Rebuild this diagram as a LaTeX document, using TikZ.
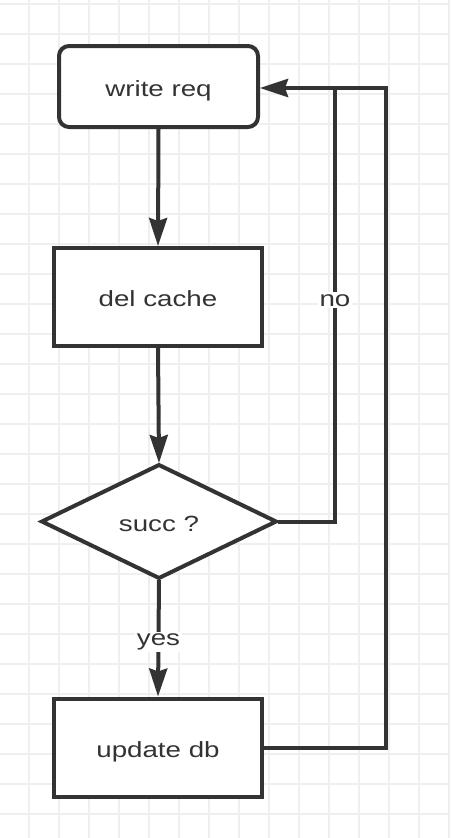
\documentclass[tikz,border=0pt]{standalone}
\usepackage{fontspec}
\newfontfamily\lblfont{Liberation Sans}[FakeStretch=1.26]
\usetikzlibrary{arrows.meta,shapes.geometric}
\definecolor{ink}{HTML}{333333}
\definecolor{gridc}{HTML}{EFEFEF}
\tikzset{
  every node/.style={font=\lblfont\fontsize{22}{26}\selectfont, text=ink},
  boxbase/.style={draw=ink, line width=4pt, fill=white, inner sep=0pt},
  lowtext/.style={text height=19pt, text depth=0pt},
  flowbox/.style={boxbase, lowtext, minimum width=208pt, minimum height=98pt},
  roundbox/.style={boxbase, lowtext, rounded corners=10pt, minimum width=199pt, minimum height=81pt},
  decision/.style={boxbase, diamond, aspect=2.07, minimum width=234pt, minimum height=113pt, shape border uses incircle=false},
  conn/.style={draw=ink, line width=4pt},
  arr/.style={conn, -{Stealth[length=28pt, width=18pt, inset=3pt]}},
  lbl/.style={fill=white, inner sep=2pt}
}
\begin{document}
\begin{tikzpicture}[x=1pt, y=-1pt]
\useasboundingbox (0,0) rectangle (450,838);
\fill[white] (0,0) rectangle (450,838);
% grid
\foreach \gx in {29,59,...,449} \draw[gridc, line width=1.4pt] (\gx,0) -- (\gx,838);
\foreach \gy in {4,34,...,838} \draw[gridc, line width=1.4pt] (0,\gy) -- (450,\gy);
% nodes
\node[roundbox] (req) at (158.5,86.5) {write req};
\node[flowbox] (del) at (158,297) {del cache};
\node[decision, draw=none, fill=none] (succ) at (159,521.5) {};
\draw[ink, line width=4pt, fill=white, line join=miter] (42,521.5) -- (159,465) -- (276,521.5) -- (159,578) -- cycle;
\node[lowtext] (succtext) at (159,521.5) {succ ?};
\node[flowbox] (upd) at (158,747.5) {update db};
\coordinate (nojoin) at (335,88);
\coordinate (yesout) at (386,88);
% connectors
\draw[arr] (req.south) -- (del.north);
\draw[arr] (del.south) -- (succ.north);
\draw[arr] (succ.south) -- node[lbl, pos=0.53] (yes) {yes} (upd.north);
\draw[conn] (succ.east) -| node[lbl, pos=0.755] (no) {no} (nojoin);
\draw[arr] (nojoin) -- (req.east |- nojoin);
\draw[conn, line join=miter] (upd.east) -| (yesout) -- (nojoin);
\end{tikzpicture}
\end{document}
